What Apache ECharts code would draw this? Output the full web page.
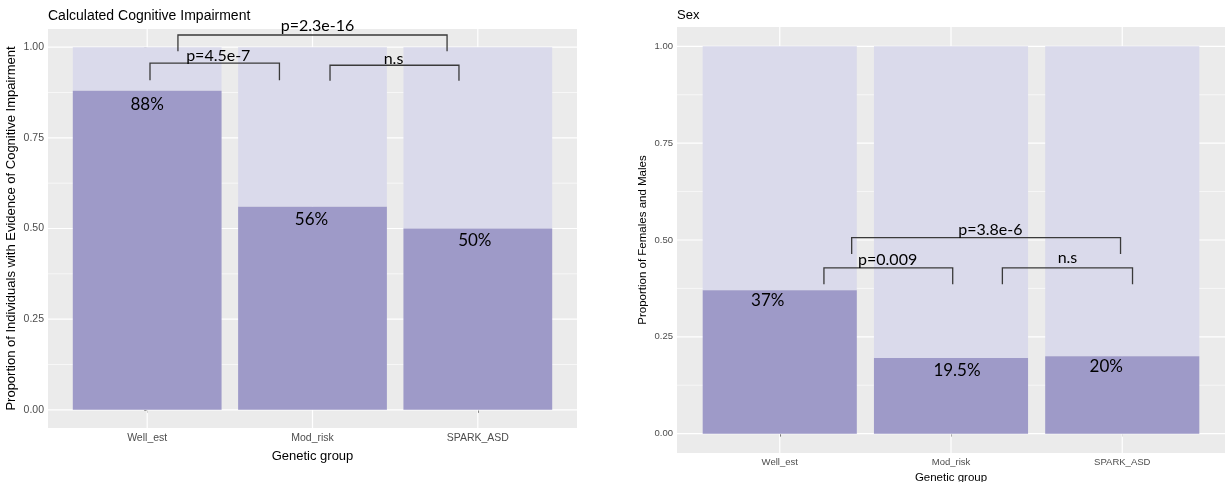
<!DOCTYPE html>
<html>
<head>
<meta charset="utf-8">
<script src="https://cdn.jsdelivr.net/npm/echarts@6/dist/echarts.min.js"></script>
<style>
  html, body { margin: 0; padding: 0; background: #ffffff; }
  #chart { width: 1225px; height: 482px; }
</style>
</head>
<body>
<div id="chart"></div>
<script>
// Genetic groups and the share of each group in the darker (lower) segment
const categories = ['Well_est', 'Mod_risk', 'SPARK_ASD'];
const impairedShare = [0.88, 0.56, 0.50];   // evidence of cognitive impairment
const femaleShare = [0.37, 0.195, 0.20];    // females
const yTicks = [0, 0.25, 0.5, 0.75, 1];
const yMinorTicks = [0.125, 0.375, 0.625, 0.875];
const impairmentTests = ['p=4.5e-7', 'n.s', 'p=2.3e-16'];
const sexTests = ['p=0.009', 'n.s', 'p=3.8e-6'];

const DARK = '#9E9AC8';
const LIGHT = '#DADAEB';
const PANEL = '#EBEBEB';
const NOTE_FONT = 'Lato, "Open Sans", sans-serif';
const AXIS_FONT = '"Liberation Sans", Arial, sans-serif';
const X_MIN = -0.6, X_MAX = 2.6, Y_MIN = -0.05, Y_MAX = 1.05;

const pct = v => +(v * 100).toFixed(1) + '%';

// Layout of each facet: plot area, text sizes, label nudges (px) and
// comparison brackets (axis units: x1/x2 leg positions, top of bracket,
// foot of legs, text anchor tx/ty).
const panels = [
  {
    grid: { left: 48, top: 29, width: 529, height: 399 },
    shares: impairedShare, tests: impairmentTests,
    title: 'Calculated Cognitive Impairment', titleSize: 14, titleTop: 9,
    yName: 'Proportion of Individuals with Evidence of Cognitive Impairment',
    tickSize: 10.5, nameSize: 13, yNameGap: 30, xNameGap: 22, labelMargin: 5,
    nudges: [[0, 13.6], [-1, 13], [-3, 12.5]],
    brackets: [
      { x1: 0.017, x2: 0.80, top: 0.956, foot: 0.909, tx: 0.43, ty: 0.976 },
      { x1: 1.106, x2: 1.886, top: 0.950, foot: 0.907, tx: 1.49, ty: 0.967 },
      { x1: 0.186, x2: 1.814, top: 1.0335, foot: 0.989, tx: 1.03, ty: 1.058 }
    ]
  },
  {
    grid: { left: 677, top: 27, width: 548, height: 426 },
    shares: femaleShare, tests: sexTests,
    title: 'Sex', titleSize: 13, titleTop: 9,
    yName: 'Proportion of Females and Males',
    tickSize: 9.5, nameSize: 11.5, yNameGap: 28, xNameGap: 12, labelMargin: 4,
    nudges: [[-12, 10.3], [6, 11.9], [-16, 10]],
    brackets: [
      { x1: 0.258, x2: 1.01, top: 0.428, foot: 0.386, tx: 0.63, ty: 0.450 },
      { x1: 1.30, x2: 2.06, top: 0.428, foot: 0.386, tx: 1.68, ty: 0.454 },
      { x1: 0.42, x2: 1.99, top: 0.506, foot: 0.464, tx: 1.23, ty: 0.527 }
    ]
  }
];

const grids = [], xAxes = [], yAxes = [], titles = [], series = [];

panels.forEach((p, idx) => {
  grids.push(Object.assign({
    show: true, backgroundColor: PANEL, borderWidth: 0,
    containLabel: false, outerBoundsMode: 'none'
  }, p.grid));

  titles.push({
    text: p.title, left: p.grid.left, top: p.titleTop, padding: 0,
    textStyle: { fontFamily: AXIS_FONT, fontSize: p.titleSize, fontWeight: 'normal', color: '#000' }
  });

  xAxes.push({
    type: 'value', gridIndex: idx, min: X_MIN, max: X_MAX,
    axisLine: { show: false }, splitLine: { show: false },
    axisTick: { show: true, customValues: [0, 1, 2], length: 3, lineStyle: { color: '#333', width: 1 } },
    axisLabel: {
      customValues: [0, 1, 2], formatter: v => categories[Math.round(v)],
      color: '#4D4D4D', fontFamily: AXIS_FONT, fontSize: p.tickSize, margin: p.labelMargin
    },
    name: 'Genetic group', nameLocation: 'middle', nameGap: p.xNameGap,
    nameTextStyle: { color: '#000', fontFamily: AXIS_FONT, fontSize: p.nameSize }
  });

  yAxes.push({
    type: 'value', gridIndex: idx, min: Y_MIN, max: Y_MAX,
    axisLine: { show: false }, splitLine: { show: false },
    axisTick: { show: true, customValues: yTicks, length: 3, lineStyle: { color: '#333', width: 1 } },
    axisLabel: {
      customValues: yTicks, formatter: v => v.toFixed(2),
      color: '#4D4D4D', fontFamily: AXIS_FONT, fontSize: p.tickSize, margin: 4
    },
    name: p.yName, nameLocation: 'middle', nameRotate: 90, nameGap: p.yNameGap,
    nameTextStyle: { color: '#000', fontFamily: AXIS_FONT, fontSize: p.nameSize }
  });

  // white panel grid lines (major and minor)
  series.push({
    type: 'custom', xAxisIndex: idx, yAxisIndex: idx, silent: true, z: 1, clip: false,
    data: [[0, 0]],
    renderItem(params, api) {
      const children = [];
      const seg = (a, b, w) => children.push({
        type: 'line', shape: { x1: a[0], y1: a[1], x2: b[0], y2: b[1] },
        style: { stroke: '#FFFFFF', lineWidth: w }
      });
      yMinorTicks.forEach(y => seg(api.coord([X_MIN, y]), api.coord([X_MAX, y]), 0.6));
      yTicks.forEach(y => seg(api.coord([X_MIN, y]), api.coord([X_MAX, y]), 1.2));
      [0, 1, 2].forEach(x => seg(api.coord([x, Y_MIN]), api.coord([x, Y_MAX]), 1.2));
      return { type: 'group', children };
    }
  });

  // stacked proportion bars with the lower share printed inside
  series.push({
    type: 'custom', xAxisIndex: idx, yAxisIndex: idx, silent: true, z: 2, clip: false,
    data: p.shares.map((v, i) => [i, v]),
    encode: { x: 0, y: 1 },
    renderItem(params, api) {
      const x = api.value(0), v = api.value(1);
      const w = api.size([0.9, 0])[0];
      const base = api.coord([x, 0]), top = api.coord([x, v]), full = api.coord([x, 1]);
      const nudge = p.nudges[params.dataIndex];
      return {
        type: 'group',
        children: [
          { type: 'rect', shape: { x: full[0] - w / 2, y: full[1], width: w, height: top[1] - full[1] }, style: { fill: LIGHT } },
          { type: 'rect', shape: { x: base[0] - w / 2, y: top[1], width: w, height: base[1] - top[1] }, style: { fill: DARK } },
          { type: 'text', x: top[0] + nudge[0], y: top[1] + nudge[1],
            style: { text: pct(v), align: 'center', verticalAlign: 'middle', fill: '#000',
                     fontFamily: NOTE_FONT, fontSize: 17 } }
        ]
      };
    }
  });

  // significance brackets
  series.push({
    type: 'custom', xAxisIndex: idx, yAxisIndex: idx, silent: true, z: 3, clip: false,
    data: p.tests.map((t, i) => [i, 0]),
    renderItem(params, api) {
      const b = p.brackets[params.dataIndex];
      const l0 = api.coord([b.x1, b.foot]), l1 = api.coord([b.x1, b.top]);
      const r1 = api.coord([b.x2, b.top]), r0 = api.coord([b.x2, b.foot]);
      const t = api.coord([b.tx, b.ty]);
      return {
        type: 'group',
        children: [
          { type: 'polyline', shape: { points: [l0, l1, r1, r0] },
            style: { stroke: '#3A3A3A', lineWidth: 1.3, fill: null } },
          { type: 'text', x: t[0], y: t[1],
            style: { text: p.tests[params.dataIndex], align: 'center', verticalAlign: 'middle',
                     fill: '#000', fontFamily: NOTE_FONT, fontSize: 16 } }
        ]
      };
    }
  });
});

const chart = echarts.init(document.getElementById('chart'), null, { renderer: 'canvas' });
chart.setOption({
  animation: false,
  backgroundColor: '#FFFFFF',
  title: titles,
  grid: grids,
  xAxis: xAxes,
  yAxis: yAxes,
  series: series
});
</script>
</body>
</html>
